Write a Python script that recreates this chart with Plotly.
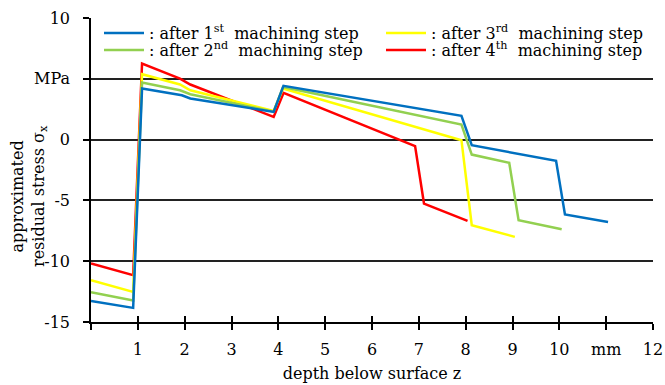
import plotly.graph_objects as go

# depth below surface z (mm) and approximated residual stress (MPa)
x_step1 = [0.0, 0.9, 1.09, 1.94, 2.12, 3.9, 4.11, 7.91, 8.13, 9.07, 9.93, 10.12, 11.04]
y_step1 = [-13.27, -13.84, 4.2, 3.65, 3.38, 2.28, 4.42, 1.95, -0.46, -1.15, -1.75, -6.16, -6.77]

x_step2 = [0.0, 0.9, 1.09, 1.9, 2.12, 3.9, 4.1, 7.91, 8.13, 8.93, 9.13, 10.05]
y_step2 = [-12.55, -13.23, 4.69, 4.06, 3.73, 2.3, 4.33, 1.24, -1.23, -1.91, -6.63, -7.37]

x_step3 = [0.0, 0.9, 1.09, 1.9, 2.12, 3.9, 4.1, 7.91, 8.13, 9.05]
y_step3 = [-11.56, -12.52, 5.38, 4.53, 4.06, 2.35, 4.2, -0.05, -7.04, -8.0]

x_step4 = [0.0, 0.9, 1.09, 1.9, 2.12, 3.9, 4.11, 6.92, 7.11, 8.04]
y_step4 = [-10.19, -11.15, 6.26, 5.02, 4.53, 1.87, 3.84, -0.54, -5.26, -6.69]

names = [": after 1<sup>st</sup>\u00a0 machining step",
         ": after 2<sup>nd</sup>\u00a0 machining step",
         ": after 3<sup>rd</sup>\u00a0 machining step",
         ": after 4<sup>th</sup>\u00a0 machining step"]
colors = ["#0070C0", "#92D050", "#FFFF00", "#FF0000"]
legend_ids = ["legend", "legend2", "legend3", "legend4"]

x_ticks = list(range(0, 13))
x_ticktext = ["", "1", "2", "3", "4", "5", "6", "7", "8", "9", "10", "mm", "12"]
y_ticks = [-15, -10, -5, 0, 5, 10]
y_ticktext = ["-15", "-10", "-5", "0", "MPa", "10"]

FONT = "DejaVu Serif"
FS = 16

series = [(x_step1, y_step1), (x_step2, y_step2), (x_step3, y_step3), (x_step4, y_step4)]

fig = go.Figure()
for i in [3, 2, 1, 0]:
    xs, ys = series[i]
    fig.add_trace(go.Scatter(x=xs, y=ys, mode="lines", name=names[i],
                             line=dict(color=colors[i], width=2.5),
                             legend=legend_ids[i]))

# helper trace for inside ticks (crossing tick marks on x axis)
fig.add_trace(go.Scatter(x=[0, 12], y=[-15, -15], xaxis="x2", mode="lines",
                         line=dict(width=0), showlegend=False, hoverinfo="skip"))

PW, PH = 562.0, 304.0   # plot area size in px
def px_x(p):
    return (p - 91) / PW
def px_y(p):
    return (322 - p) / PH

leg_common = dict(orientation="v", xanchor="left", yanchor="middle",
                  bgcolor="rgba(0,0,0,0)", itemwidth=40,
                  font=dict(family=FONT, size=FS, color="black"))

fig.update_layout(
    width=665, height=385,
    margin=dict(l=91, r=12, t=18, b=63),
    paper_bgcolor="white", plot_bgcolor="white",
    font=dict(family=FONT, size=FS, color="black"),
    xaxis=dict(range=[0, 12], tickvals=x_ticks, ticktext=x_ticktext,
               ticks="outside", ticklen=6, tickwidth=1.5, tickcolor="black",
               ticklabelstandoff=6,
               showline=True, linecolor="black", linewidth=1.5,
               showgrid=False, zeroline=False, automargin=False,
               title=dict(text="depth below surface z", standoff=10,
                          font=dict(size=FS))),
    xaxis2=dict(range=[0, 12], overlaying="x", anchor="y", side="bottom",
                tickvals=x_ticks, ticks="inside", ticklen=6, tickwidth=1.5,
                tickcolor="black", showticklabels=False, showgrid=False,
                zeroline=False, showline=False, automargin=False),
    yaxis=dict(range=[-15, 10], tickvals=y_ticks, ticktext=y_ticktext,
               ticks="outside", ticklen=6, tickwidth=1.5, tickcolor="black",
               ticklabelstandoff=10,
               showline=True, linecolor="black", linewidth=1.5,
               showgrid=True, gridcolor="#222222", gridwidth=1.5,
               zeroline=False, automargin=False),
    legend=dict(x=px_x(99), y=px_y(33), **leg_common),
    legend2=dict(x=px_x(99), y=px_y(50), **leg_common),
    legend3=dict(x=px_x(381), y=px_y(33), **leg_common),
    legend4=dict(x=px_x(381), y=px_y(50), **leg_common),
    annotations=[dict(text="approximated<br>residual stress σ<sub>x</sub>",
                      textangle=-90, xref="paper", yref="paper",
                      x=px_x(29), y=px_y(196),
                      xanchor="center", yanchor="middle", showarrow=False,
                      font=dict(family=FONT, size=FS, color="black"))],
)

fig.write_html("out.html")
